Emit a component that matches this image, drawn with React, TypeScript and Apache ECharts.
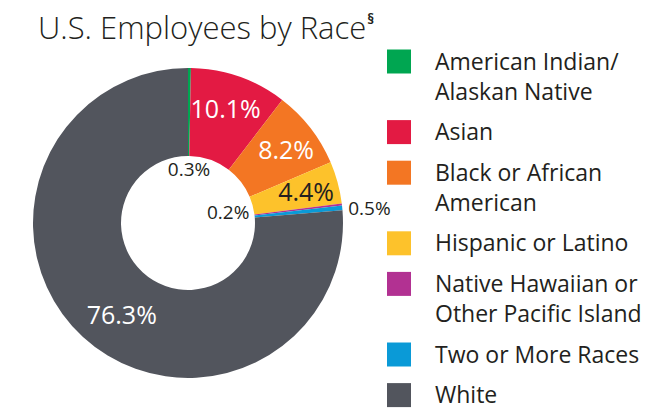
import React, { useEffect, useRef } from "react";
import * as echarts from "echarts";

const categories = [
  "American Indian/\nAlaskan Native",
  "Asian",
  "Black or African\nAmerican",
  "Hispanic or Latino",
  "Native Hawaiian or\nOther Pacific Island",
  "Two or More Races",
  "White",
];
const values = [0.3, 10.1, 8.2, 4.4, 0.2, 0.5, 76.3];
const colors = ["#00a651", "#e31a43", "#f37623", "#fdc22b", "#b23192", "#0a9ad7", "#52555d"];
const titleText = "U.S. Employees by Race";
const titleMark = "§";

// label styling / nudges (layout only)
const labelColors = ["#231f20", "#ffffff", "#ffffff", "#231f20", "#231f20", "#231f20", "#ffffff"];
const labelSizes = [19, 25, 25, 25, 19, 19, 25];
const labelShift: [number, number][] = [
  [0, 60],
  [0, -7],
  [8, -4],
  [8, -2],
  [-73, 3],
  [68, -4],
  [11, 7],
];

const FONT = "'Open Sans', 'Noto Sans', sans-serif";
const TEXT = "#231f20";

export default function App() {
  const ref = useRef<HTMLDivElement>(null);
  useEffect(() => {
    if (!ref.current) return;
    const chart = echarts.init(ref.current, undefined, { renderer: "svg" });

    const legendEls: any[] = [];
    let top = 45.5;
    const lineH = 30;
    const gap = 10.6;
    categories.forEach((name, i) => {
      const lines = name.split("\n");
      const firstCenter = top + lineH / 2;
      legendEls.push({
        type: "rect",
        shape: { x: 387, y: firstCenter - 11, width: 24, height: 24 },
        style: { fill: colors[i] },
      });
      lines.forEach((line, j) => {
        legendEls.push({
          type: "text",
          style: {
            text: line,
            x: 435,
            y: firstCenter + j * lineH,
            font: `23px ${FONT}`,
            fill: TEXT,
            verticalAlign: "middle",
            align: "left",
          },
        });
      });
      top += lines.length * lineH + gap;
    });

    chart.setOption({
      animation: false,
      backgroundColor: "#ffffff",
      title: {
        text: `{t|${titleText}}{s|${titleMark}}`,
        left: 33,
        top: 6,
        textStyle: {
          rich: {
            t: { fontFamily: FONT, fontSize: 31, color: TEXT, fontWeight: 300 },
            s: { fontFamily: FONT, fontSize: 14, color: TEXT, verticalAlign: "top", padding: [0, 0, 14, 1] },
          },
        },
      },
      graphic: legendEls,
      series: [
        {
          type: "pie",
          center: [188, 223],
          radius: [67, 155],
          startAngle: 90,
          clockwise: true,
          avoidLabelOverlap: false,
          minAngle: 0,
          label: {
            show: true,
            position: "inside",
            fontFamily: FONT,
            formatter: (p: any) => `${values[p.dataIndex].toFixed(1)}%`,
          },
          labelLine: { show: false },
          labelLayout: (p: any) => ({
            dx: labelShift[p.dataIndex][0],
            dy: labelShift[p.dataIndex][1],
          }),
          emphasis: { disabled: true },
          data: categories.map((name, i) => ({
            name,
            value: values[i],
            itemStyle: { color: colors[i] },
            label: { color: labelColors[i], fontSize: labelSizes[i] },
          })),
        },
      ],
    });
    return () => chart.dispose();
  }, []);
  return (
    <div
      ref={ref}
      style={{ position: "fixed", left: 0, top: 0, width: 656, height: 410 }}
    />
  );
}
